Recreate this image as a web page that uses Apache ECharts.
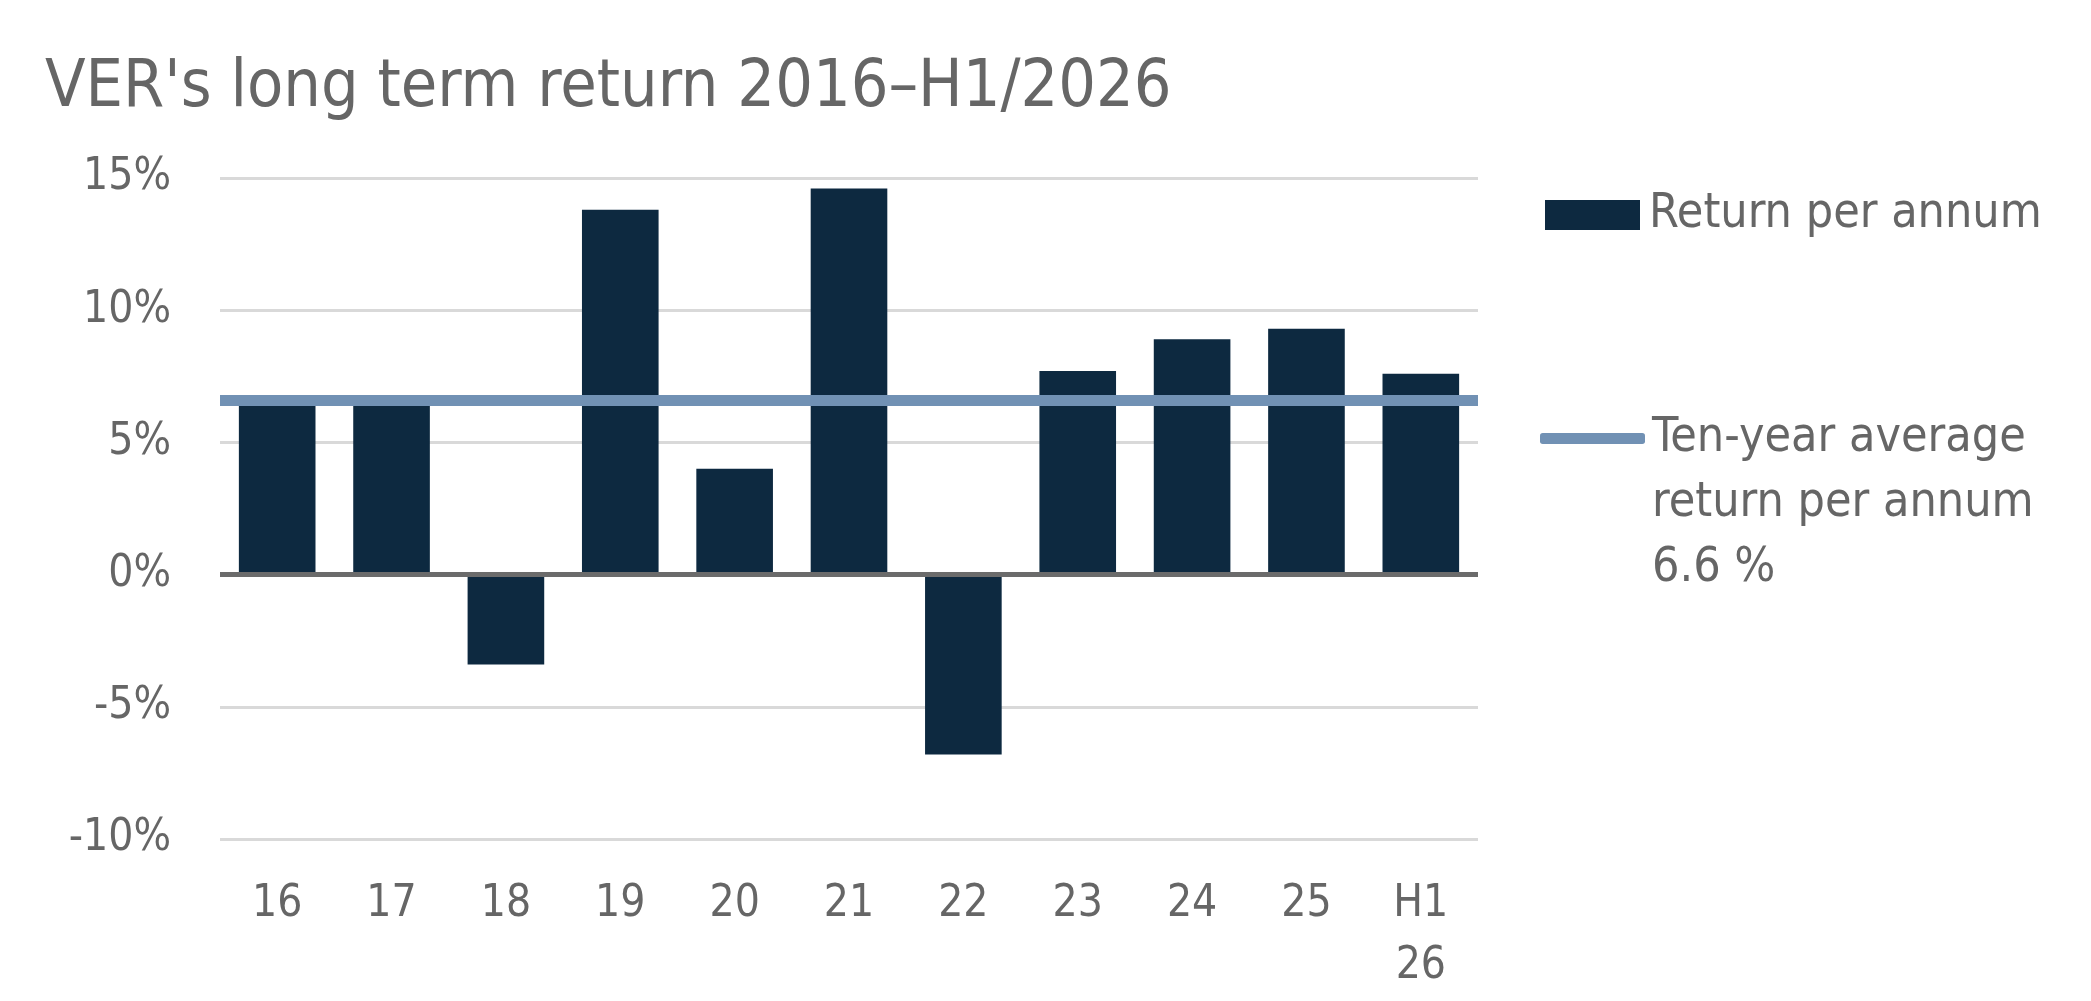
<!DOCTYPE html>
<html>
<head>
<meta charset="utf-8">
<script src="https://cdn.jsdelivr.net/npm/echarts@6/dist/echarts.min.js"></script>
<style>
    html, body { margin: 0; padding: 0; background: #fff; }
    #chart { width: 2091px; height: 1001px; }
</style>
</head>
<body>
<div id="chart"></div>
<script>
const varFont = '"DejaVu Sans Condensed", "Liberation Sans Narrow", sans-serif';
const textColor = '#666666';

// data
const categories = ['16', '17', '18', '19', '20', '21', '22', '23', '24', '25', 'H1\n26'];
const returnPerAnnum = [6.6, 6.5, -3.4, 13.8, 4.0, 14.6, -6.8, 7.7, 8.9, 9.3, 7.6];
const tenYearAverage = 6.6;
const yTicks = { min: -10, max: 15, interval: 5 };

const barName = 'Return per annum';
const lineName = 'Ten-year average return per annum 6.6 %';

function createChart(elementId, optionChart) {
    var myChart = echarts.init(document.getElementById(elementId));
    myChart.setOption(optionChart);
};

var option = {
    animation: false,
    textStyle: {
        fontFamily: varFont,
    },
    title: {
        text: "VER's long term return 2016\u2013H1/2026",
        left: 45,
        top: 56,
        padding: 0,
        textStyle: {
            fontFamily: varFont,
            fontSize: 66,
            fontWeight: 'normal',
            color: textColor,
        },
    },
    legend: [
        {
            data: [barName],
            left: 1545,
            top: 191,
            padding: 0,
            icon: 'rect',
            itemWidth: 95,
            itemHeight: 30,
            selectedMode: false,
            textStyle: {
                fontFamily: varFont,
                fontSize: 48,
                color: textColor,
                padding: [0, 0, 0, 4],
            },
        },
        {
            data: [lineName],
            left: 1540,
            top: 276,
            padding: 0,
            icon: 'roundRect',
            itemWidth: 105,
            itemHeight: 11,
            selectedMode: false,
            // two empty lines first so the icon sits beside the first text line
            formatter: function () {
                return '\n\nTen-year average\nreturn per annum\n6.6 %';
            },
            textStyle: {
                fontFamily: varFont,
                fontSize: 48,
                lineHeight: 65,
                color: textColor,
                padding: [0, 0, 0, 2],
            },
        },
    ],
    grid: {
        left: 220,
        right: 613,
        top: 178,
        bottom: 162,
    },
    xAxis: {
        type: 'category',
        data: categories,
        axisLine: { show: false, onZero: false },
        axisTick: { show: false },
        axisLabel: {
            margin: 35,
            fontSize: 44,
            lineHeight: 62,
            color: textColor,
            fontFamily: varFont,
        },
    },
    yAxis: {
        type: 'value',
        min: yTicks.min,
        max: yTicks.max,
        interval: yTicks.interval,
        axisLine: { show: false },
        axisTick: { show: false },
        axisLabel: {
            margin: 49,
            fontSize: 44,
            color: textColor,
            fontFamily: varFont,
            padding: [8, 0, 0, 0],
            formatter: '{value}%',
        },
        splitLine: {
            lineStyle: { color: '#d9d9d9', width: 3 },
        },
    },
    series: [
        {
            name: barName,
            type: 'bar',
            data: returnPerAnnum,
            barWidth: '67%',
            itemStyle: { color: '#0d2940' },
            markLine: {
                silent: true,
                symbol: 'none',
                label: { show: false },
                lineStyle: { color: '#6b6b6b', width: 5, type: 'solid' },
                data: [{ yAxis: 0 }],
            },
        },
        {
            name: lineName,
            type: 'line',
            data: [],
            z: 5,
            color: '#7191b4',
            itemStyle: { color: '#7191b4' },
            lineStyle: { color: '#7191b4', width: 11 },
            markLine: {
                silent: true,
                symbol: 'none',
                label: { show: false },
                lineStyle: { color: '#7191b4', width: 11, type: 'solid' },
                data: [{ yAxis: tenYearAverage }],
            },
        },
    ],
};

createChart('chart', option);
</script>
</body>
</html>
